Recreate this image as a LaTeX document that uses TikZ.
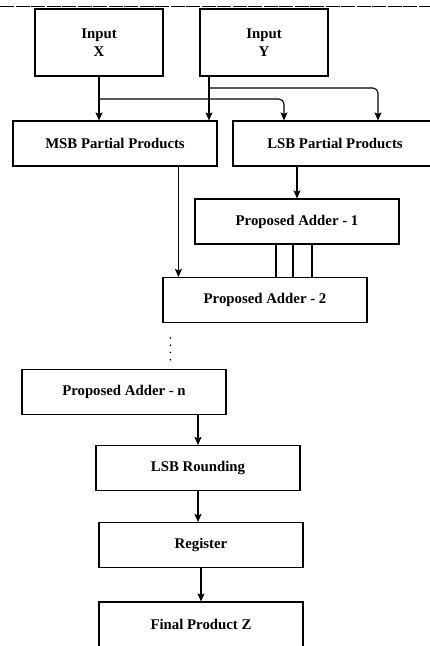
\documentclass[tikz,border=0pt]{standalone}
\usepackage{fontspec}
\setmainfont{Liberation Serif}
\usetikzlibrary{arrows.meta}
\newcommand{\blockfont}{\bfseries\fontsize{14.8}{18}\selectfont}

\begin{document}
\begin{tikzpicture}[x=1pt,y=-1pt,line width=1.1pt,
    >={Stealth[length=8pt,width=7pt,inset=1.5pt]},
    block/.style={draw,minimum width=204pt,minimum height=45pt,inner sep=0pt,
      font=\blockfont,align=center},
    inblock/.style={block,minimum width=128pt,minimum height=67pt},
    dots/.style={line width=1.8pt,line cap=round,dash pattern=on 0pt off 7.2pt}]
    \useasboundingbox (0,0) rectangle (430,646);
    \draw[line width=0.9pt,dash pattern=on 14pt off 1.5pt] (0,6) -- (430,6);
    \node[inblock] (in-x) at (99,42.5)  {Input\\X};
    \node[inblock] (in-y) at (264,42.5) {Input\\Y};
    \node[block] (msb)  at (115,143.5) {MSB Partial Products};
    \node[block] (lsb)  at (335,143.5) {LSB Partial Products};
    \node[block] (add1) at (297,221.5) {Proposed Adder - 1};
    \node[block] (add2) at (265,300)   {Proposed Adder - 2};
    \node[block] (addn) at (124,392)   {Proposed Adder - n};
    \node[block] (rnd)  at (198,468)   {LSB Rounding};
    \node[block] (reg)  at (201,545)   {Register};
    \node[block] (fin)  at (201,624.5) {Final Product Z};
    \coordinate (x-split) at (99,99);
    \coordinate (y-split) at (209,88);
    \coordinate (a2-in) at ([xshift=16pt]add2.north west);
    \coordinate (a2-dots) at ([xshift=8pt]add2.south west);
    \draw[->] (in-x) -- (in-x |- msb.north);
    \draw[->] (in-y.south -| y-split) -- (y-split |- msb.north);
    \draw[->,rounded corners=5pt] (x-split) -| ([xshift=-51pt]lsb.north);
    \draw[->,rounded corners=5pt] (y-split) -| ([xshift=43pt]lsb.north);
    \draw[->] (lsb.south -| add1.north) -- (add1.north);
    \draw[->] (msb.south -| a2-in) -- (a2-in);
    \foreach \dx in {-21,-4,15}
      \draw ([xshift=\dx pt]add1.south) -- ([xshift=\dx pt]add1.south |- add2.north);
    \draw[dots,shorten <=15pt,shorten >=4pt] (a2-dots) -- (a2-dots |- addn.north);
    \draw[->] (addn.south -| rnd.north) -- (rnd.north);
    \draw[->] (rnd.south) -- (rnd.south |- reg.north);
    \draw[->] (reg) -- (fin);
  \end{tikzpicture}
\end{document}
